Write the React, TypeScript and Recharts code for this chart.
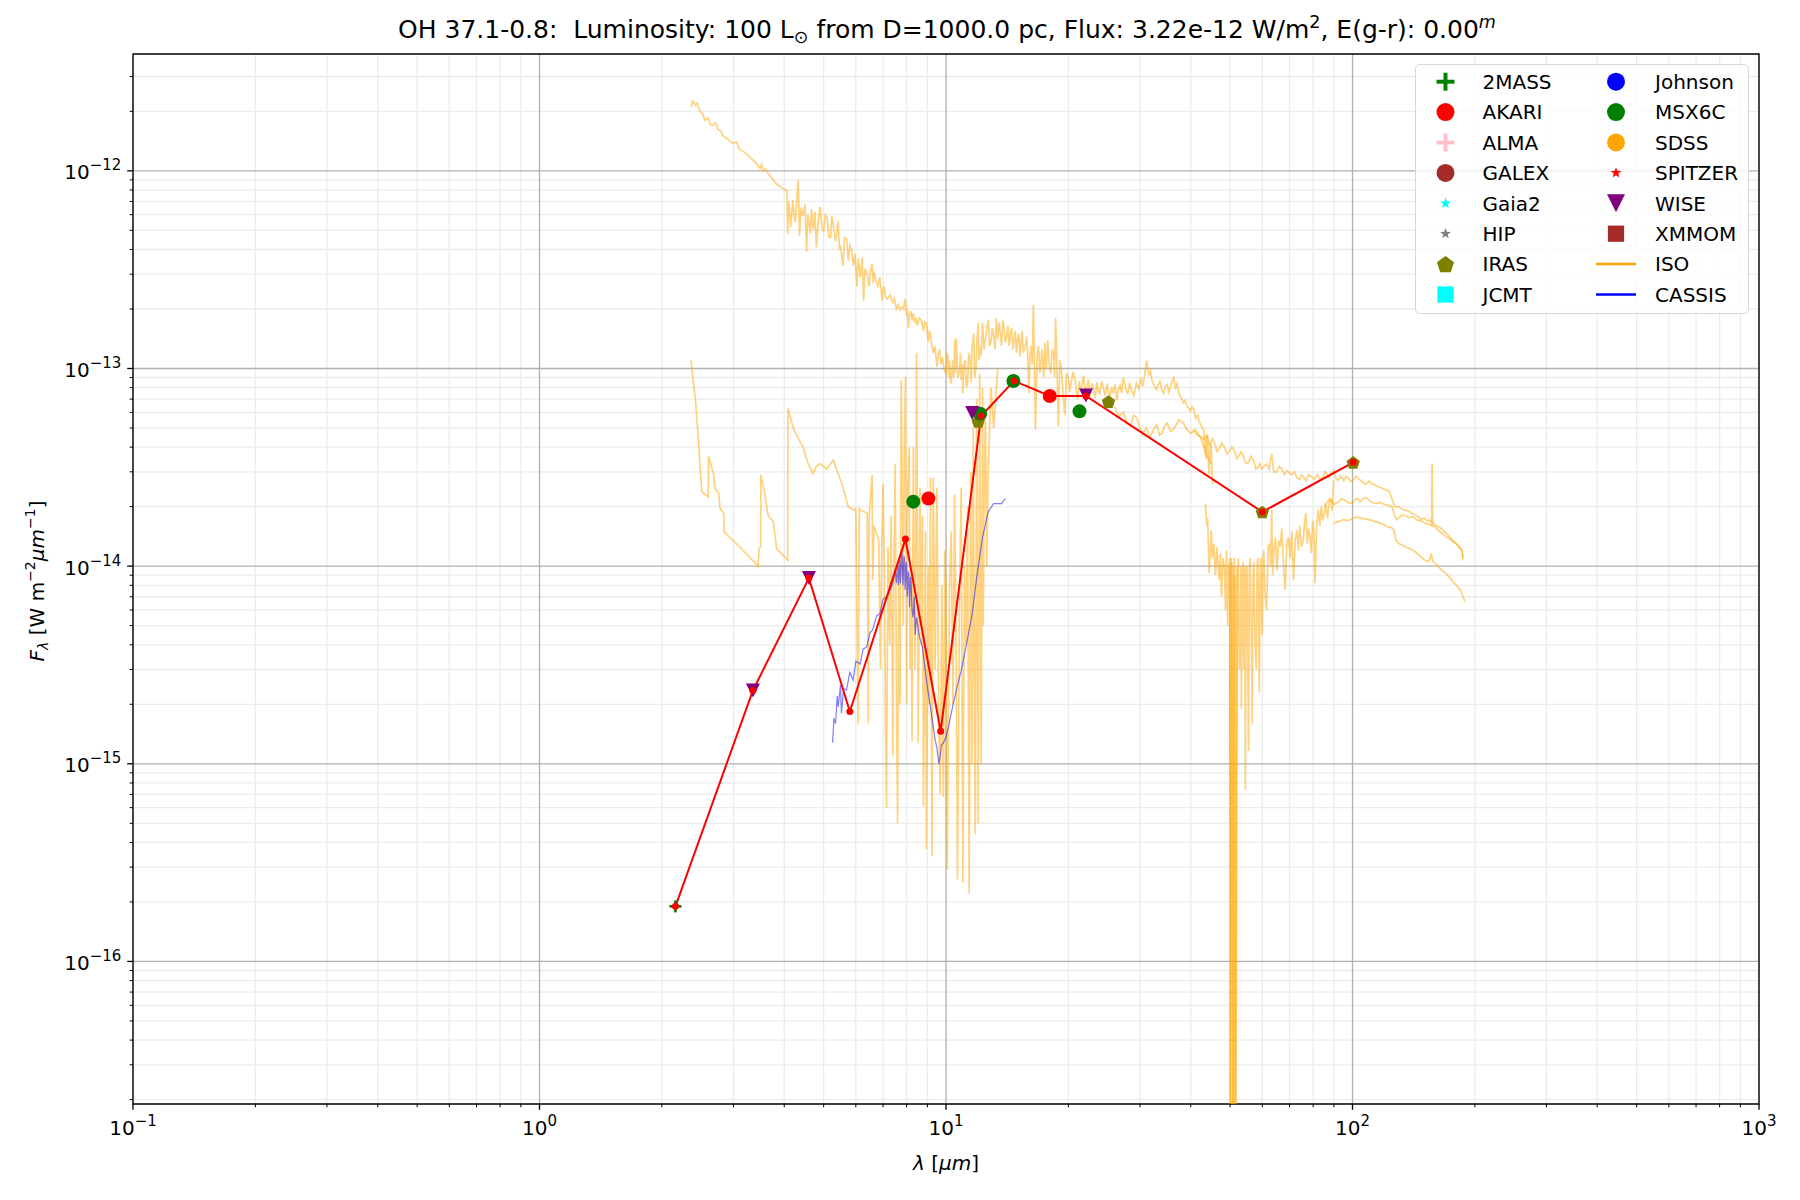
import React from 'react';
import {
  ComposedChart,
  Line,
  Scatter,
  XAxis,
  YAxis,
  CartesianGrid,
  ReferenceArea,
} from 'recharts';

const FONT = '"DejaVu Sans", sans-serif';

// axis ranges (wavelength in micron, flux in W m^-2 um^-1)
const xDomain = [0.1, 1000];
const yDomain = [1.9e-17, 3.9e-12];
const xMajor = [0.1, 1, 10, 100, 1000];
const yMajor = [1e-16, 1e-15, 1e-14, 1e-13, 1e-12];
const minorSteps = [2, 3, 4, 5, 6, 7, 8, 9];

// photometry [lambda, flux]
const twoMass = [[2.16, 1.9e-16]];
const akari = [[9.05, 2.2e-14], [18.0, 7.26e-14]];
const iras = [[12.0, 5.4e-14], [25.1, 6.8e-14], [60.0, 1.88e-14], [100.4, 3.35e-14]];
const msx6c = [[8.31, 2.12e-14], [12.13, 5.9e-14], [14.65, 8.65e-14], [21.3, 6.07e-14]];
const wise = [[3.35, 2.35e-15], [4.6, 8.7e-15], [11.6, 5.95e-14], [22.1, 7.3e-14]];
const sedLine = [
  [2.16, 1.9e-16], [3.35, 2.35e-15], [4.6, 8.7e-15], [5.8, 1.84e-15], [7.95, 1.37e-14],
  [9.7, 1.46e-15], [12.2, 5.75e-14], [14.7, 8.65e-14], [18.0, 7.26e-14], [22.1, 7.26e-14],
  [60.0, 1.88e-14], [100.4, 3.35e-14],
];

// ISO SWS, upper spectrum
const isoSwsUpper = [
  [2.36, 2.1e-12], [2.38, 2.25e-12], [2.42, 2.15e-12], [2.44, 2.2e-12], [2.48, 2.0e-12],
  [2.52, 1.95e-12], [2.55, 1.8e-12], [2.6, 1.85e-12], [2.63, 1.72e-12], [2.67, 1.7e-12],
  [2.71, 1.75e-12], [2.75, 1.62e-12], [2.8, 1.58e-12], [2.83, 1.5e-12], [2.9, 1.45e-12],
  [2.99, 1.38e-12], [3.05, 1.4e-12], [3.11, 1.28e-12], [3.2, 1.24e-12], [3.3, 1.17e-12],
  [3.4, 1.1e-12], [3.49, 1.03e-12], [3.52, 1.08e-12], [3.55, 1.0e-12], [3.6, 1.02e-12],
  [3.66, 9.6e-13], [3.75, 9.1e-13], [3.82, 8.6e-13], [3.95, 8.2e-13], [4.06, 7.9e-13],
  [4.08, 4.8e-13], [4.1, 7.0e-13], [4.12, 6.4e-13], [4.15, 5.2e-13], [4.2, 7.1e-13],
  [4.23, 6.0e-13], [4.26, 5.5e-13], [4.3, 7.5e-13], [4.33, 9.0e-13], [4.36, 4.7e-13],
  [4.4, 6.5e-13], [4.45, 5.9e-13], [4.5, 6.8e-13], [4.54, 3.9e-13], [4.57, 6.0e-13],
  [4.6, 5.5e-13], [4.64, 4.8e-13], [4.67, 6.4e-13], [4.72, 5.0e-13], [4.76, 6.2e-13],
  [4.8, 4.1e-13], [4.85, 5.6e-13], [4.9, 6.6e-13], [4.95, 5.2e-13], [5.0, 4.9e-13],
  [5.05, 6.0e-13], [5.1, 5.8e-13], [5.15, 4.6e-13], [5.2, 4.6e-13], [5.24, 5.9e-13],
  [5.28, 5.3e-13], [5.35, 4.4e-13], [5.43, 5.55e-13], [5.47, 4.0e-13], [5.5, 4.2e-13],
  [5.55, 3.6e-13], [5.58, 3.3e-13], [5.63, 4.6e-13], [5.7, 4.5e-13], [5.75, 3.5e-13],
  [5.8, 4.2e-13], [5.86, 4.0e-13], [5.92, 3.3e-13], [5.97, 3.8e-13], [6.04, 2.6e-13],
  [6.08, 3.6e-13], [6.1, 3.4e-13], [6.15, 2.9e-13], [6.22, 3.65e-13], [6.27, 2.2e-13],
  [6.32, 3.2e-13], [6.4, 3.0e-13], [6.47, 2.6e-13], [6.52, 3.1e-13], [6.58, 3.4e-13],
  [6.62, 2.7e-13], [6.65, 3.1e-13], [6.72, 2.8e-13], [6.8, 2.6e-13], [6.87, 2.9e-13],
  [6.97, 2.2e-13], [7.0, 2.5e-13], [7.05, 2.6e-13], [7.1, 2.3e-13], [7.18, 2.25e-13],
  [7.28, 2.35e-13], [7.4, 2.15e-13], [7.47, 2.25e-13], [7.55, 2.0e-13], [7.63, 2.1e-13],
  [7.71, 1.98e-13], [7.8, 2.05e-13], [7.87, 2.0e-13], [7.93, 2.25e-13], [7.97, 2.1e-13],
  [8.0, 1.85e-13], [8.04, 2.0e-13], [8.08, 1.6e-13], [8.13, 1.85e-13], [8.2, 1.95e-13],
  [8.25, 1.75e-13], [8.31, 1.9e-13], [8.38, 1.7e-13], [8.44, 1.8e-13], [8.5, 1.65e-13],
  [8.6, 1.8e-13], [8.7, 1.75e-13], [8.8, 1.55e-13], [8.87, 1.72e-13], [8.95, 1.7e-13],
  [9.04, 1.36e-13], [9.1, 1.55e-13], [9.15, 1.5e-13], [9.22, 1.3e-13], [9.3, 1.2e-13],
  [9.38, 1.3e-13], [9.44, 1.15e-13], [9.5, 1.02e-13], [9.58, 1.2e-13], [9.65, 1.25e-13],
  [9.72, 1.05e-13], [9.8, 1.14e-13], [9.9, 9.8e-14], [10.0, 9.4e-14], [10.05, 1.2e-13],
  [10.1, 1.15e-13], [10.15, 9e-14], [10.2, 1.1e-13], [10.25, 8.8e-14], [10.3, 8.4e-14],
  [10.38, 1.1e-13], [10.45, 9e-14], [10.5, 1.39e-13], [10.55, 9.5e-14], [10.6, 1.42e-13],
  [10.7, 9e-14], [10.8, 9.7e-14], [10.85, 1.2e-13], [10.9, 8.75e-14], [10.95, 1.05e-13],
  [11.0, 7.5e-14], [11.07, 1.05e-13], [11.15, 1.1e-13], [11.22, 8e-14], [11.3, 8.4e-14],
  [11.37, 1.2e-13], [11.45, 1.14e-13], [11.52, 8.5e-14], [11.6, 1.3e-13], [11.7, 1.5e-13],
  [11.77, 9e-14], [11.85, 1.0e-13], [11.92, 1.4e-13], [12.0, 1.7e-13], [12.05, 1.1e-13],
  [12.1, 1.3e-13], [12.2, 1.15e-13], [12.3, 1.7e-13], [12.4, 1.25e-13], [12.5, 1.4e-13],
  [12.6, 1.6e-13], [12.7, 1.76e-13], [12.8, 1.3e-13], [12.9, 1.35e-13], [13.0, 1.6e-13],
  [13.1, 1.45e-13], [13.2, 1.25e-13], [13.3, 1.8e-13], [13.4, 1.4e-13], [13.5, 1.7e-13],
  [13.6, 1.5e-13], [13.7, 1.3e-13], [13.8, 1.75e-13], [13.9, 1.6e-13], [14.0, 1.35e-13],
  [14.1, 1.45e-13], [14.2, 1.65e-13], [14.3, 1.3e-13], [14.4, 1.5e-13], [14.5, 1.6e-13],
  [14.6, 1.25e-13], [14.7, 1.39e-13], [14.8, 1.55e-13], [14.9, 1.2e-13], [15.0, 1.4e-13],
  [15.1, 1.5e-13], [15.2, 1.15e-13], [15.3, 1.35e-13], [15.4, 1.55e-13], [15.5, 1.2e-13],
  [15.65, 1.3e-13], [15.8, 1.45e-13], [15.9, 1.1e-13], [16.0, 7.5e-14], [16.1, 1.2e-13],
  [16.2, 1.3e-13], [16.3, 1.05e-13], [16.4, 2.1e-13], [16.5, 1.1e-13], [16.6, 4.9e-14],
  [16.75, 1.15e-13], [16.9, 1.3e-13], [17.0, 9.5e-14], [17.1, 1.0e-13], [17.2, 1.25e-13],
  [17.3, 1.1e-13], [17.4, 9e-14], [17.5, 1.35e-13], [17.65, 1.0e-13], [17.8, 1.39e-13],
  [17.95, 1.05e-13], [18.1, 9.4e-14], [18.25, 1.25e-13], [18.4, 1.2e-13], [18.5, 9e-14],
  [18.6, 1.8e-13], [18.75, 1.0e-13], [18.9, 5.1e-14], [19.05, 1.1e-13], [19.2, 1.02e-13],
  [19.4, 7.5e-14], [19.6, 5.8e-14], [19.8, 9.5e-14], [20.0, 9.0e-14], [20.15, 7.6e-14],
  [20.3, 8.4e-14], [20.55, 9.6e-14], [20.8, 8.75e-14], [20.95, 7.4e-14], [21.1, 7.0e-14],
  [21.25, 8.6e-14], [21.4, 7.8e-14], [21.6, 8.3e-14], [21.8, 9.2e-14], [22.0, 7.6e-14],
  [22.2, 8.1e-14], [22.4, 8.8e-14], [22.6, 7.2e-14], [22.85, 8.4e-14], [23.1, 7.8e-14],
  [23.3, 7.1e-14], [23.5, 8.5e-14], [23.7, 7.7e-14], [23.9, 7.5e-14], [24.15, 8.6e-14],
  [24.4, 7.9e-14], [24.65, 7.3e-14], [24.9, 8.4e-14], [25.1, 7.6e-14], [25.3, 7.0e-14],
  [25.55, 8.0e-14], [25.8, 7.5e-14], [26.05, 8.3e-14], [26.3, 6.9e-14], [26.55, 7.8e-14],
  [26.8, 8.2e-14], [27.05, 7.5e-14], [27.3, 9.0e-14], [27.65, 8.0e-14], [28.0, 7.4e-14],
  [28.3, 8.5e-14], [28.6, 7.8e-14], [29.0, 7.3e-14], [29.4, 8.4e-14], [29.8, 7.9e-14],
  [30.2, 9.0e-14], [30.45, 8.1e-14], [30.7, 8.8e-14], [30.95, 1.0e-13], [31.2, 1.1e-13],
  [31.4, 9.8e-14], [31.6, 9.3e-14], [31.85, 9.7e-14], [32.1, 8.75e-14], [32.5, 8.2e-14],
  [33.0, 7.8e-14], [33.3, 8.3e-14], [33.6, 8.6e-14], [33.95, 7.8e-14], [34.3, 7.5e-14],
  [34.65, 8.1e-14], [35.0, 8.3e-14], [35.35, 7.6e-14], [35.7, 8.1e-14], [36.0, 8.7e-14],
  [36.3, 9.0e-14], [36.65, 8.0e-14], [37.0, 8.4e-14], [37.35, 7.6e-14], [37.7, 7.2e-14],
  [38.05, 7.0e-14], [38.4, 6.7e-14], [38.75, 6.9e-14], [39.1, 6.5e-14], [39.5, 6.3e-14],
  [39.9, 6.1e-14], [40.3, 6.4e-14], [40.7, 6.2e-14], [41.15, 5.6e-14], [41.6, 5.8e-14],
  [41.95, 5.4e-14], [42.3, 5.2e-14], [42.7, 5.0e-14], [43.1, 4.9e-14], [43.35, 3.9e-14],
  [43.6, 3.5e-14], [43.8, 4.4e-14], [44.0, 4.6e-14], [44.2, 3.4e-14], [44.4, 2.9e-14],
  [44.65, 3.8e-14], [44.9, 4.2e-14], [45.1, 3.1e-14], [45.3, 2.6e-14],
];

// ISO SWS, second band 26-45 um
const isoSwsBand4 = [
  [26.0, 6.4e-14], [26.6, 5.7e-14], [27.3, 6.0e-14], [27.8, 5.4e-14], [28.4, 5.1e-14],
  [29.0, 5.8e-14], [29.5, 5.6e-14], [30.0, 5.0e-14], [30.5, 4.6e-14], [31.1, 5.0e-14],
  [31.8, 4.5e-14], [32.4, 4.9e-14], [33.0, 5.2e-14], [33.5, 4.6e-14], [34.0, 4.7e-14],
  [34.5, 5.1e-14], [35.0, 5.3e-14], [35.7, 4.8e-14], [36.5, 5.0e-14], [37.4, 5.5e-14],
  [38.4, 5.3e-14], [39.2, 4.9e-14], [40.0, 4.7e-14], [41.1, 4.9e-14], [42.2, 4.5e-14],
  [42.9, 4.1e-14], [43.5, 3.8e-14], [44.2, 3.5e-14], [44.9, 3.3e-14],
];

// ISO SWS, lower spectrum with the noisy spikes
const isoSwsLower = [
  [2.36, 1.1e-13], [2.39, 8.5e-14], [2.42, 6.9e-14], [2.46, 4.35e-14], [2.49, 2.94e-14],
  [2.51, 2.38e-14], [2.6, 2.24e-14], [2.605, 3.6e-14], [2.68, 2.94e-14], [2.7, 2.48e-14],
  [2.76, 2.34e-14], [2.78, 1.96e-14], [2.84, 1.85e-14], [2.845, 1.49e-14], [3.11, 1.25e-14],
  [3.45, 1.0e-14], [3.47, 1.23e-14], [3.5, 1.25e-14], [3.505, 2.9e-14], [3.58, 2.34e-14],
  [3.65, 1.81e-14], [3.76, 1.68e-14], [3.83, 1.23e-14], [4.08, 1.07e-14], [4.085, 6.3e-14],
  [4.21, 5.0e-14], [4.29, 4.6e-14], [4.45, 4.0e-14], [4.58, 3.3e-14], [4.71, 2.94e-14],
  [4.8, 3.2e-14], [4.9, 3.3e-14], [5.09, 3.1e-14], [5.28, 3.44e-14], [5.43, 2.94e-14],
  [5.58, 2.5e-14], [5.75, 2.0e-14], [5.91, 1.92e-14], [6.0, 1.95e-14], [6.08, 1.6e-15],
  [6.12, 1.95e-14], [6.2, 1.9e-14], [6.3, 1.88e-14], [6.4, 1.85e-14], [6.44, 1.6e-15],
  [6.47, 1.8e-14], [6.58, 2.9e-14], [6.6, 8.5e-15], [6.65, 1.6e-14], [6.83, 1.35e-14],
  [6.9, 3e-15], [6.95, 1.3e-14], [7.0, 2.6e-14], [7.05, 1.0e-14], [7.1, 1.5e-15],
  [7.14, 6e-16], [7.2, 1.25e-14], [7.27, 4e-15], [7.33, 1.8e-14], [7.4, 1.1e-15],
  [7.45, 1.2e-14], [7.5, 3.3e-14], [7.55, 2.5e-15], [7.6, 5.0e-16], [7.66, 1.0e-14],
  [7.71, 2e-15], [7.76, 8.75e-14], [7.8, 3e-14], [7.85, 5e-15], [7.9, 4e-14],
  [7.95, 9.1e-14], [8.0, 2e-15], [8.05, 2.5e-14], [8.12, 4e-14], [8.16, 3e-15],
  [8.2, 9e-15], [8.25, 1.3e-15], [8.31, 4e-14], [8.35, 1e-14], [8.4, 3e-15],
  [8.46, 1.2e-13], [8.5, 2e-14], [8.54, 1.27e-15], [8.63, 2.5e-14], [8.7, 4e-15],
  [8.75, 1.8e-14], [8.8, 6.1e-16], [8.9, 1.5e-14], [8.95, 3.7e-16], [9.05, 1e-14],
  [9.1, 2e-15], [9.16, 2.8e-14], [9.24, 3.4e-16], [9.3, 2.8e-14], [9.4, 3e-15],
  [9.5, 2.5e-14], [9.6, 1.5e-15], [9.68, 7e-16], [9.77, 8e-15], [9.85, 6.8e-16],
  [9.93, 1.2e-14], [10.0, 8e-15], [10.07, 2.9e-16], [10.2, 7.5e-15], [10.3, 1.5e-14],
  [10.4, 2e-15], [10.5, 2.3e-14], [10.6, 3e-15], [10.67, 2.6e-16], [10.8, 7.5e-15],
  [10.9, 2.5e-14], [11.0, 2.5e-16], [11.1, 1e-14], [11.2, 4e-15], [11.3, 2e-14],
  [11.4, 2.2e-16], [11.5, 3e-14], [11.6, 1e-15], [11.67, 5e-14], [11.75, 2e-15],
  [11.8, 4.4e-16], [11.9, 7e-14], [12.0, 5e-16], [12.1, 9.4e-14], [12.2, 1e-15],
  [12.3, 8e-14], [12.35, 5e-15], [12.4, 2e-14], [12.5, 6e-14], [12.6, 1e-14],
  [12.7, 3e-14], [12.9, 8e-14], [13.1, 5e-14], [13.4, 1.0e-13],
];

// ISO LWS, three detector curves and the low noisy one
const isoLwsTop = [
  [40.5, 4.9e-14], [41.5, 4.6e-14], [42.5, 4.5e-14], [43.1, 4.35e-14], [43.8, 4.6e-14],
  [44.5, 4.1e-14], [45.2, 4.4e-14], [45.8, 4.2e-14], [46.4, 3.8e-14], [47.0, 3.9e-14],
  [47.7, 4.2e-14], [48.4, 4.0e-14], [49.1, 3.7e-14], [49.8, 3.8e-14], [50.5, 4.0e-14],
  [51.2, 3.85e-14], [51.9, 3.5e-14], [52.5, 3.6e-14], [53.2, 3.8e-14], [53.9, 3.6e-14],
  [54.7, 3.3e-14], [55.5, 3.35e-14], [56.3, 3.6e-14], [57.2, 3.4e-14], [57.9, 3.1e-14],
  [58.5, 3.15e-14], [59.2, 3.3e-14], [59.8, 3.1e-14], [60.6, 3.2e-14], [61.5, 3.3e-14],
  [62.4, 3.1e-14], [63.3, 3.7e-14], [64.0, 3.0e-14], [65.1, 3.0e-14], [66.0, 3.2e-14],
  [67.0, 3.1e-14], [68.0, 2.9e-14], [69.0, 3.05e-14], [70.0, 2.95e-14], [71.0, 2.9e-14],
  [72.0, 3.0e-14], [73.0, 2.8e-14], [74.0, 2.75e-14], [75.0, 2.9e-14], [76.0, 2.8e-14],
  [76.8, 2.7e-14], [78.0, 2.9e-14], [79.0, 2.85e-14], [80.5, 2.75e-14], [82.0, 2.9e-14],
  [83.2, 2.75e-14], [84.5, 2.8e-14], [85.6, 3.0e-14], [86.7, 2.9e-14], [87.6, 2.8e-14],
  [88.5, 2.95e-14], [89.8, 3.05e-14], [91.0, 2.8e-14], [92.0, 2.7e-14], [93.5, 2.85e-14],
  [95.2, 2.7e-14], [96.3, 2.85e-14], [97.5, 2.8e-14], [99.0, 2.68e-14], [100.4, 2.73e-14],
  [102, 2.85e-14], [104, 2.75e-14], [106, 2.65e-14], [108, 2.6e-14], [110, 2.7e-14],
  [112, 2.6e-14], [114.5, 2.55e-14], [117, 2.5e-14], [120, 2.45e-14], [123, 2.4e-14],
  [124, 2.3e-14], [125, 2.2e-14], [126, 2.1e-14], [127, 2.0e-14], [130, 2.0e-14],
  [132, 1.95e-14], [134, 1.93e-14], [137, 1.9e-14], [140, 1.85e-14], [142.5, 1.82e-14],
  [145, 1.78e-14], [147.5, 1.72e-14], [150, 1.75e-14], [152.5, 1.7e-14], [155, 1.71e-14],
  [158, 1.64e-14], [161, 1.6e-14], [164, 1.57e-14], [167, 1.52e-14], [170, 1.47e-14],
  [172, 1.43e-14], [174, 1.4e-14], [176, 1.35e-14], [178.5, 1.32e-14], [181, 1.28e-14],
  [183.5, 1.24e-14], [186, 1.2e-14], [187, 1.07e-14],
];
const isoLwsMid = [
  [85.2, 2.0e-14], [86.5, 2.1e-14], [88, 2.2e-14], [90, 2.05e-14], [92, 2.1e-14],
  [94, 2.2e-14], [96, 2.15e-14], [98, 2.08e-14], [100.4, 2.1e-14], [101.5, 2.18e-14],
  [103, 2.2e-14], [104.5, 2.12e-14], [106, 2.2e-14], [108, 2.22e-14], [110, 2.15e-14],
  [112, 2.1e-14], [114, 2.07e-14], [117, 2.1e-14], [120, 2.05e-14], [122.5, 2.03e-14],
  [125, 2.0e-14], [126, 1.9e-14], [127, 1.8e-14], [128.5, 1.72e-14], [130, 1.75e-14],
  [132.5, 1.82e-14], [135, 1.8e-14], [138, 1.76e-14], [141, 1.78e-14], [143.5, 1.72e-14],
  [146, 1.7e-14], [148.5, 1.68e-14], [151, 1.65e-14], [153, 1.63e-14], [155, 1.62e-14],
  [156.5, 1.6e-14], [157, 3.3e-14], [157.5, 1.6e-14], [159, 1.59e-14], [162, 1.53e-14],
  [165, 1.48e-14], [167.5, 1.45e-14], [170, 1.41e-14], [172.5, 1.38e-14], [175, 1.36e-14],
  [177.5, 1.32e-14], [180, 1.3e-14], [183, 1.25e-14], [186, 1.2e-14], [187, 1.1e-14],
];
const isoLwsBot = [
  [89.8, 1.65e-14], [92.5, 1.68e-14], [95, 1.72e-14], [97.5, 1.7e-14], [100.4, 1.75e-14],
  [102.5, 1.77e-14], [105, 1.75e-14], [108, 1.73e-14], [111, 1.71e-14], [114, 1.68e-14],
  [117, 1.65e-14], [119.5, 1.62e-14], [122, 1.58e-14], [124, 1.57e-14], [126, 1.55e-14],
  [127, 1.45e-14], [128, 1.35e-14], [130, 1.3e-14], [132.5, 1.28e-14], [135, 1.25e-14],
  [138, 1.23e-14], [141, 1.2e-14], [143.5, 1.17e-14], [146, 1.13e-14], [148.5, 1.1e-14],
  [151, 1.07e-14], [153, 1.05e-14], [155, 1.08e-14], [156, 1.16e-14], [157, 1.1e-14],
  [158, 1.05e-14], [160, 1.03e-14], [163, 9.9e-15], [166, 9.5e-15], [169.5, 9.2e-15],
  [173, 8.8e-15], [175.5, 8.5e-15], [178, 8.2e-15], [181, 7.9e-15], [184, 7.6e-15],
  [186.5, 7.1e-15], [189, 6.6e-15],
];
const isoLwsLow = [
  [43.5, 2.07e-14], [43.8, 1.6e-14], [44.0, 1.75e-14], [44.4, 9.2e-15], [44.9, 1.52e-14],
  [45.2, 1.1e-14], [45.6, 1.3e-14], [46.0, 9e-15], [46.4, 1.25e-14], [46.7, 1.0e-14],
  [47.0, 8.5e-15], [47.3, 1.16e-14], [47.6, 7e-15], [48.0, 1.1e-14], [48.4, 9.9e-15],
  [48.7, 6e-15], [49.0, 1.2e-14], [49.3, 5e-15], [49.5, 9.5e-15], [49.9, 1.1e-14],
  [50.0, 1e-17], [50.5, 1.05e-14], [50.8, 1e-17], [51.2, 1.1e-14], [51.5, 1e-17],
  [51.8, 8e-17], [52.0, 2.5e-15], [52.2, 9e-15], [52.4, 1.1e-14], [52.7, 3e-15],
  [53.0, 4e-15], [53.15, 1.0e-14], [53.3, 1.9e-15], [53.55, 8e-15], [53.8, 1.05e-14],
  [54.0, 3e-15], [54.2, 5e-15], [54.35, 1.0e-14], [54.5, 7.4e-16], [54.75, 9e-15],
  [55.0, 1.0e-14], [55.25, 4e-15], [55.5, 1.16e-15], [55.75, 9.5e-15], [56.0, 1.1e-14],
  [56.35, 5e-15], [56.7, 1.6e-15], [56.95, 9e-15], [57.2, 1.05e-14], [57.6, 4e-15],
  [58.0, 3e-15], [58.25, 1.0e-14], [58.5, 1.1e-14], [58.75, 5e-15], [59.0, 2.3e-15],
  [59.25, 9e-15], [59.5, 1.1e-14], [59.75, 6e-15], [60.0, 4.5e-15], [60.25, 1.1e-14],
  [60.5, 1.2e-14], [61.0, 7e-15], [61.5, 6e-15], [62.0, 1.25e-14], [62.5, 1.3e-14],
  [62.9, 1.0e-14], [63.3, 1.93e-14], [63.6, 9e-15], [64.0, 1.16e-14], [64.6, 1.4e-14],
  [65.2, 9.5e-15], [65.8, 1.35e-14], [66.4, 1.25e-14], [67.0, 1.55e-14], [67.6, 1.05e-14],
  [68.3, 7.6e-15], [68.9, 1.3e-14], [69.6, 1.4e-14], [70.2, 1.1e-14], [70.9, 1.5e-14],
  [71.6, 8.5e-15], [72.3, 1.35e-14], [73.0, 1.52e-14], [73.6, 1.2e-14], [74.2, 1.6e-14],
  [74.9, 1.25e-14], [75.7, 1.35e-14], [76.2, 1.65e-14], [76.8, 1.85e-14], [77.4, 1.3e-14],
  [78.0, 1.55e-14], [78.6, 1.4e-14], [79.2, 1.16e-14], [79.8, 1.7e-14], [80.4, 1.45e-14],
  [80.9, 8.2e-15], [81.6, 1.6e-14], [82.4, 1.93e-14], [83.1, 1.6e-14], [83.8, 2.0e-14],
  [84.5, 1.7e-14], [85.2, 1.85e-14], [86.0, 2.05e-14], [86.8, 1.75e-14], [87.6, 2.1e-14],
  [88.4, 2.16e-14], [89.1, 1.9e-14], [89.8, 2.72e-14],
];
const isoLwsDip = [
  [49.9, 1.0e-14], [50.1, 1e-17], [50.3, 1.1e-14], [50.6, 1e-17], [50.9, 1.0e-14],
  [51.1, 1e-17], [51.4, 9e-15], [51.6, 1e-17], [51.9, 1.0e-14],
];

// CASSIS (Spitzer IRS) spectrum
const cassis = [
  [5.26, 1.28e-15], [5.3, 1.7e-15], [5.35, 1.6e-15], [5.4, 2.2e-15], [5.43, 1.94e-15],
  [5.5, 2.5e-15], [5.53, 1.8e-15], [5.6, 2.4e-15], [5.69, 2.36e-15], [5.8, 2.9e-15],
  [5.91, 2.65e-15], [6.0, 3.3e-15], [6.15, 3.2e-15], [6.25, 3.8e-15], [6.38, 3.9e-15],
  [6.5, 4.6e-15], [6.6, 4.75e-15], [6.75, 5.6e-15], [6.88, 5.75e-15], [7.0, 6.8e-15],
  [7.14, 7.0e-15], [7.3, 7.6e-15], [7.4, 8.2e-15], [7.5, 9.6e-15], [7.55, 8.2e-15],
  [7.6, 1.03e-14], [7.63, 8.0e-15], [7.65, 8.5e-15], [7.68, 1.12e-14], [7.7, 1.1e-14],
  [7.72, 8.2e-15], [7.75, 9e-15], [7.78, 1.18e-14], [7.8, 1.15e-14], [7.83, 8.0e-15],
  [7.85, 8.8e-15], [7.88, 1.12e-14], [7.9, 1.1e-14], [7.93, 7.6e-15], [7.95, 8.5e-15],
  [7.98, 1.05e-14], [8.0, 1.0e-14], [8.03, 7.0e-15], [8.05, 7.8e-15], [8.08, 9.4e-15],
  [8.1, 9e-15], [8.13, 6.2e-15], [8.15, 7e-15], [8.18, 8.8e-15], [8.2, 8.5e-15],
  [8.25, 6.0e-15], [8.3, 5.5e-15], [8.35, 7e-15], [8.4, 4.5e-15], [8.46, 5.5e-15],
  [8.6, 4.4e-15], [8.75, 3.9e-15], [8.95, 2.65e-15], [9.2, 1.8e-15], [9.4, 1.33e-15],
  [9.5, 1.2e-15], [9.6, 1.0e-15], [9.68, 1.1e-15], [9.75, 1.25e-15], [9.85, 1.27e-15],
  [10.0, 1.37e-15], [10.15, 1.55e-15], [10.3, 1.8e-15], [10.6, 2.36e-15], [10.9, 2.96e-15],
  [11.2, 3.9e-15], [11.6, 5.75e-15], [11.9, 8.8e-15], [12.3, 1.4e-14], [12.7, 1.88e-14],
  [13.1, 2.07e-14], [13.7, 2.07e-14], [14.0, 2.2e-14],
];

const isoSeries = [isoSwsUpper, isoSwsBand4, isoSwsLower, isoLwsTop, isoLwsMid, isoLwsBot, isoLwsLow, isoLwsDip];

// legend entries
const legendLeft = [
  { name: '2MASS', kind: 'plus', color: '#008000' },
  { name: 'AKARI', kind: 'circle', color: '#ff0000' },
  { name: 'ALMA', kind: 'plus', color: '#ffc0cb' },
  { name: 'GALEX', kind: 'circle', color: '#a52a2a' },
  { name: 'Gaia2', kind: 'star', color: '#00ffff' },
  { name: 'HIP', kind: 'star', color: '#808080' },
  { name: 'IRAS', kind: 'pentagon', color: '#808000' },
  { name: 'JCMT', kind: 'square', color: '#00ffff' },
];
const legendRight = [
  { name: 'Johnson', kind: 'circle', color: '#0000ff' },
  { name: 'MSX6C', kind: 'circle', color: '#008000' },
  { name: 'SDSS', kind: 'circle', color: '#ffa500' },
  { name: 'SPITZER', kind: 'star', color: '#ff0000' },
  { name: 'WISE', kind: 'triangle', color: '#800080' },
  { name: 'XMMOM', kind: 'square', color: '#a52a2a' },
  { name: 'ISO', kind: 'line', color: '#ffa500' },
  { name: 'CASSIS', kind: 'line', color: '#0000ff' },
];

const toPts = (rows: number[][]) => rows.map(([x, y]) => ({ x, y }));

const minorOf = (majors: number[], lo: number, hi: number) =>
  majors
    .flatMap((m) => minorSteps.map((s) => s * m))
    .concat(minorSteps.map((s) => (s * majors[0]) / 10))
    .filter((v) => v > lo && v < hi)
    .sort((a, b) => a - b);

const xMinor = minorOf(xMajor, xDomain[0], xDomain[1]);
const yMinor = minorOf(yMajor, yDomain[0], yDomain[1]);

const expText = (e: number) => (e < 0 ? '\u2212' + Math.abs(e) : String(e));
const isMajor = (v: number) => Math.abs(Math.log10(v) - Math.round(Math.log10(v))) < 1e-6;

function XTick(props: any) {
  const { x, y, payload } = props;
  const v = payload.value;
  const major = isMajor(v);
  return (
    <g>
      <line x1={x} x2={x} y1={y} y2={y + (major ? 5.8 : 3.3)} stroke="#000" strokeWidth={major ? 1.3 : 1} />
      {major && (
        <text x={x} y={y + 31} textAnchor="middle" fontFamily={FONT} fontSize={20} fill="#000">
          10<tspan dy={-9} fontSize={15}>{expText(Math.round(Math.log10(v)))}</tspan>
        </text>
      )}
    </g>
  );
}

function YTick(props: any) {
  const { x, y, payload } = props;
  const v = payload.value;
  const major = isMajor(v);
  return (
    <g>
      <line x1={x} x2={x - (major ? 5.8 : 3.3)} y1={y} y2={y} stroke="#000" strokeWidth={major ? 1.3 : 1} />
      {major && (
        <text x={x - 11.6} y={y + 8.5} textAnchor="end" fontFamily={FONT} fontSize={20} fill="#000">
          10<tspan dy={-9} fontSize={15}>{expText(Math.round(Math.log10(v)))}</tspan>
        </text>
      )}
    </g>
  );
}

function starPoints(cx: number, cy: number, ro: number, ri: number) {
  const p: string[] = [];
  for (let i = 0; i < 10; i++) {
    const r = i % 2 === 0 ? ro : ri;
    const a = -Math.PI / 2 + (i * Math.PI) / 5;
    p.push(`${cx + r * Math.cos(a)},${cy + r * Math.sin(a)}`);
  }
  return p.join(' ');
}

function pentPoints(cx: number, cy: number, r: number) {
  const p: string[] = [];
  for (let i = 0; i < 5; i++) {
    const a = -Math.PI / 2 + (i * 2 * Math.PI) / 5;
    p.push(`${cx + r * Math.cos(a)},${cy + r * Math.sin(a)}`);
  }
  return p.join(' ');
}

function Marker({ kind, color, cx, cy, s }: { kind: string; color: string; cx: number; cy: number; s: number }) {
  if (kind === 'plus')
    return (
      <g stroke={color} strokeWidth={s * 0.22}>
        <line x1={cx - s / 2} x2={cx + s / 2} y1={cy} y2={cy} />
        <line x1={cx} x2={cx} y1={cy - s / 2} y2={cy + s / 2} />
      </g>
    );
  if (kind === 'circle') return <circle cx={cx} cy={cy} r={s / 2} fill={color} />;
  if (kind === 'star') return <polygon points={starPoints(cx, cy, s * 0.32, s * 0.13)} fill={color} />;
  if (kind === 'pentagon') return <polygon points={pentPoints(cx, cy + s * 0.05, s * 0.5)} fill={color} />;
  if (kind === 'square') return <rect x={cx - s * 0.45} y={cy - s * 0.45} width={s * 0.9} height={s * 0.9} fill={color} />;
  if (kind === 'triangle')
    return (
      <polygon
        points={`${cx - s / 2},${cy - s / 2} ${cx + s / 2},${cy - s / 2} ${cx},${cy + s / 2}`}
        fill={color}
      />
    );
  if (kind === 'line') return <line x1={cx - 20} x2={cx + 20} y1={cy} y2={cy} stroke={color} strokeWidth={2.5} />;
  return null;
}

const shapeOf = (kind: string, color: string, s: number) => (p: any) =>
  <Marker kind={kind} color={color} cx={p.cx} cy={p.cy} s={s} />;

function LegendBox() {
  const rowY = (i: number) => 17.7 + i * 30.4;
  return (
    <div
      style={{
        position: 'absolute',
        left: 1415,
        top: 64,
        width: 334,
        height: 250,
        boxSizing: 'border-box',
        border: '1.3px solid #d6d6d6',
        borderRadius: 5,
        background: 'rgba(255,255,255,0.8)',
      }}
    >
      <svg width={334} height={250} style={{ position: 'absolute', left: -1.3, top: -1.3 }}>
        {legendLeft.map((e, i) => (
          <g key={e.name}>
            <Marker kind={e.kind} color={e.color} cx={30.5} cy={rowY(i)} s={18} />
            <text x={67.5} y={rowY(i) + 7.3} fontFamily={FONT} fontSize={20} fill="#000">
              {e.name}
            </text>
          </g>
        ))}
        {legendRight.map((e, i) => (
          <g key={e.name}>
            <Marker kind={e.kind} color={e.color} cx={201} cy={rowY(i)} s={18} />
            <text x={240} y={rowY(i) + 7.3} fontFamily={FONT} fontSize={20} fill="#000">
              {e.name}
            </text>
          </g>
        ))}
      </svg>
    </div>
  );
}

function Labels() {
  return (
    <svg width={1800} height={1200} style={{ position: 'absolute', left: 0, top: 0, pointerEvents: 'none' }}>
      <text
        x={947}
        y={38}
        textAnchor="middle"
        fontFamily={FONT}
        fontSize={25}
        fill="#000"
        xmlSpace="preserve"
        style={{ whiteSpace: 'pre' }}
      >
        {'OH 37.1-0.8:  Luminosity: 100 L'}
        <tspan fontSize={17.5} dy={5}>⊙</tspan>
        <tspan dy={-5}>{' from D=1000.0 pc, Flux: 3.22e-12 W/m'}</tspan>
        <tspan fontSize={17.5} dy={-10}>2</tspan>
        <tspan dy={10}>{', E(g-r): 0.00'}</tspan>
        <tspan fontSize={17.5} dy={-10} fontStyle="italic">m</tspan>
      </text>
      <text x={946} y={1170} textAnchor="middle" fontFamily={FONT} fontSize={20} fill="#000" style={{ whiteSpace: 'pre' }}>
        <tspan fontStyle="italic">λ</tspan>
        {' ['}
        <tspan fontStyle="italic">μm</tspan>
        {']'}
      </text>
      <text
        transform="translate(44,581) rotate(-90)"
        textAnchor="middle"
        fontFamily={FONT}
        fontSize={20}
        fill="#000"
        style={{ whiteSpace: 'pre' }}
      >
        <tspan fontStyle="italic">F</tspan>
        <tspan fontStyle="italic" fontSize={14} dy={4}>λ</tspan>
        <tspan dy={-4}>{' [W m'}</tspan>
        <tspan fontSize={14} dy={-9}>{'\u22122'}</tspan>
        <tspan dy={9} fontStyle="italic">μm</tspan>
        <tspan fontSize={14} dy={-9}>{'\u22121'}</tspan>
        <tspan dy={9}>]</tspan>
      </text>
    </svg>
  );
}

export default function App() {
  return (
    <div style={{ position: 'absolute', left: 0, top: 0, width: 1800, height: 1200, background: '#fff' }}>
      <ComposedChart width={1800} height={1200} margin={{ top: 54, right: 41, bottom: 0, left: 0 }}>
        <CartesianGrid horizontalValues={yMinor} verticalValues={xMinor} stroke="#ececec" strokeWidth={1.3} />
        <CartesianGrid horizontalValues={yMajor} verticalValues={xMajor} stroke="#b0b0b0" strokeWidth={1.3} />
        <XAxis
          type="number"
          dataKey="x"
          scale="log"
          domain={xDomain}
          allowDataOverflow
          ticks={[...xMajor, ...xMinor].sort((a, b) => a - b)}
          interval={0}
          tick={<XTick />}
          tickLine={false}
          axisLine={false}
          tickSize={0}
          tickMargin={0}
          height={96}
        />
        <YAxis
          type="number"
          dataKey="y"
          scale="log"
          domain={yDomain}
          allowDataOverflow
          ticks={[...yMajor, ...yMinor].sort((a, b) => a - b)}
          interval={0}
          tick={<YTick />}
          tickLine={false}
          axisLine={false}
          tickSize={0}
          tickMargin={0}
          width={133}
        />
        <Scatter data={toPts(akari)} shape={shapeOf('circle', '#ff0000', 14)} isAnimationActive={false} />
        <Scatter data={toPts(iras)} shape={shapeOf('pentagon', '#808000', 14)} isAnimationActive={false} />
        <Scatter data={toPts(msx6c)} shape={shapeOf('circle', '#008000', 14)} isAnimationActive={false} />
        <Scatter data={toPts(wise)} shape={shapeOf('triangle', '#800080', 14)} isAnimationActive={false} />
        <Scatter data={toPts(twoMass)} shape={shapeOf('plus', '#008000', 12)} isAnimationActive={false} />
        {isoSeries.map((s, i) => (
          <Line
            key={'iso' + i}
            data={toPts(s)}
            dataKey="y"
            stroke="#ffa500"
            strokeOpacity={0.5}
            strokeWidth={1.7}
            dot={false}
            activeDot={false}
            isAnimationActive={false}
          />
        ))}
        <Line
          data={toPts(cassis)}
          dataKey="y"
          stroke="#0000ff"
          strokeOpacity={0.5}
          strokeWidth={1.2}
          dot={false}
          activeDot={false}
          isAnimationActive={false}
        />
        <Line
          data={toPts(sedLine)}
          dataKey="y"
          stroke="#ff0000"
          strokeWidth={2}
          dot={{ r: 3.5, fill: '#ff0000', stroke: 'none' }}
          activeDot={false}
          isAnimationActive={false}
        />
        <ReferenceArea
          x1={xDomain[0]}
          x2={xDomain[1]}
          y1={yDomain[0]}
          y2={yDomain[1]}
          fill="none"
          fillOpacity={0}
          stroke="#000"
          strokeWidth={1.3}
          ifOverflow="visible"
        />
      </ComposedChart>
      <Labels />
      <LegendBox />
    </div>
  );
}
